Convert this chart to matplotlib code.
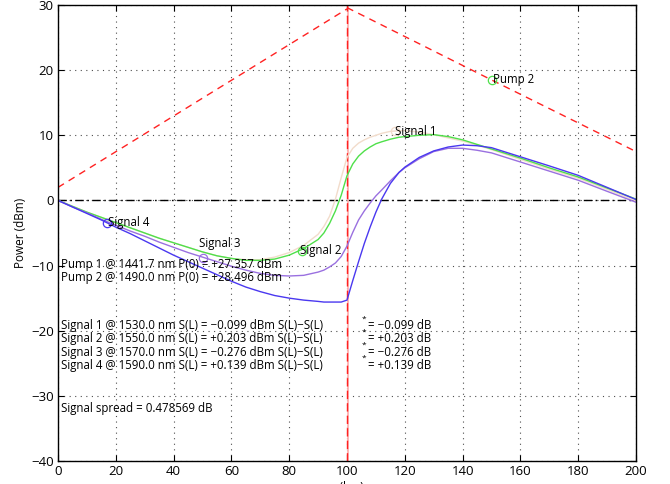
import matplotlib
matplotlib.use("Agg")
import matplotlib.pyplot as plt

plt.rcParams['font.family'] = ['Open Sans', 'DejaVu Sans']

# Fibre position grid (km) for the signal traces
z_km = [0, 5, 10, 15, 20, 25, 30, 35, 40, 45, 50, 55, 60, 65, 70, 75, 80, 85,
        90, 92, 94, 96, 98, 100, 102, 104, 106, 108, 110, 112, 115, 118, 120, 125,
        130, 135, 140, 145, 150, 160, 170, 180, 190, 200]

# Signal powers along the fibre (dBm)
signal1 = [0, -0.9, -1.8, -2.6, -3.4, -4.2, -5.0, -5.8, -6.5, -7.2, -7.9, -8.5,
           -8.9, -9.1, -9.1, -8.7, -8.0, -6.9, -5.2, -4.0, -2.4, 0.2, 3.5, 6.6,
           8.0, 8.8, 9.3, 9.7, 10.0, 10.3, 10.6, 10.7, 10.7, 10.5, 10.1, 9.6, 9.1,
           8.5, 7.8, 6.3, 4.8, 3.4, 1.7, -0.099]
signal2 = [0, -0.9, -1.8, -2.6, -3.4, -4.2, -5.0, -5.8, -6.5, -7.2, -7.9, -8.5,
           -8.9, -9.2, -9.2, -9.0, -8.4, -7.4, -6.0, -5.0, -3.5, -1.6, 0.8, 3.8,
           5.6, 6.8, 7.6, 8.2, 8.7, 9.0, 9.4, 9.7, 9.8, 10.0, 10.1, 9.8, 9.3, 8.6,
           7.9, 6.5, 5.0, 3.6, 1.9, 0.203]
signal3 = [0, -1.0, -1.9, -2.9, -3.8, -4.7, -5.5, -6.4, -7.2, -8.0, -8.7, -9.4,
           -10.1, -10.7, -11.2, -11.5, -11.6, -11.5, -11.0, -10.7, -10.2, -9.6,
           -8.6, -7.0, -4.9, -3.0, -1.6, -0.4, 0.7, 1.6, 3.0, 4.3, 5.0, 6.4, 7.5,
           8.0, 8.0, 7.7, 7.3, 5.9, 4.5, 3.1, 1.4, -0.276]
signal4 = [0, -1.0, -2.0, -3.0, -4.1, -5.1, -6.2, -7.3, -8.4, -9.4, -10.4, -11.4,
           -12.4, -13.3, -14.0, -14.6, -15.0, -15.3, -15.5, -15.6, -15.6, -15.6,
           -15.6, -15.3, -12.3, -9.4, -6.6, -4.1, -1.8, 0.2, 2.6, 4.3, 5.1, 6.6,
           7.6, 8.2, 8.5, 8.4, 8.1, 6.7, 5.3, 3.85, 2.0, 0.139]

# Pump powers (dBm): pump 1 on the first span, pump 2 on the second
pump1_z = [0, 100]
pump1_p = [2.0, 29.4]
pump2_z = [100, 150, 200]
pump2_p = [29.6, 18.5, 7.5]
span_boundary = 100

# Labelled marker points
marker_z = {'Signal 1': 116.6, 'Signal 2': 84.4, 'Signal 3': 50.2, 'Signal 4': 17.0, 'Pump 2': 150.0}
marker_p = {'Signal 1': 10.6, 'Signal 2': -7.7, 'Signal 3': -8.8, 'Signal 4': -3.4, 'Pump 2': 18.5}

colors = {'Signal 1': '#f2dccb', 'Signal 2': '#4fe04a', 'Signal 3': '#9a70e0',
          'Signal 4': '#4a38f0', 'Pump 2': '#4fe04a'}
pump_color = '#ff2222'

pump_lines = ['Pump 1 @ 1441.7 nm P(0) = +27.357 dBm',
              'Pump 2 @ 1490.0 nm P(0) = +28.496 dBm']
signal_lines = ['Signal 1 @ 1530.0 nm S(L) = \u22120.099 dBm S(L)\u2212S(L)',
                'Signal 2 @ 1550.0 nm S(L) = +0.203 dBm S(L)\u2212S(L)',
                'Signal 3 @ 1570.0 nm S(L) = \u22120.276 dBm S(L)\u2212S(L)',
                'Signal 4 @ 1590.0 nm S(L) = +0.139 dBm S(L)\u2212S(L)']
delta_lines = ['= \u22120.099 dB', '= +0.203 dB', '= \u22120.276 dB', '= +0.139 dB']
spread_text = 'Signal spread = 0.478569 dB'

fig = plt.figure(figsize=(6.70, 4.84), dpi=100)
ax = fig.add_axes([58 / 670, 1 - 461 / 484, (636 - 58) / 670, (461 - 5) / 484])

ax.set_xlim(0, 200)
ax.set_ylim(-40, 30)
ax.set_xticks(range(0, 201, 20))
ax.set_yticks(range(-40, 31, 10))
ax.grid(True, linestyle=(0, (1, 4)), color='0.3', linewidth=0.8)
ax.tick_params(direction='in', top=True, right=True, length=4, width=0.8,
               labelsize=9.5, pad=3, colors='black')
for s in ax.spines.values():
    s.set_linewidth(1.0)
ax.set_axisbelow(True)

# zero reference line
ax.axhline(0, color='black', linestyle=(0, (6, 2.5, 1.2, 2.5)), linewidth=1.0)

# pumps
ax.axvline(span_boundary + 0.4, color='#ffb0b0', linewidth=1.3)
ax.axvline(span_boundary, color=pump_color, linestyle=(0, (6, 3)), linewidth=1.0)
ax.plot(pump1_z, pump1_p, color=pump_color, linestyle=(0, (5, 4)), linewidth=1.0)
ax.plot(pump2_z, pump2_p, color=pump_color, linestyle=(0, (5, 4)), linewidth=1.0)

# signals
for name, vals in [('Signal 1', signal1), ('Signal 2', signal2),
                   ('Signal 3', signal3), ('Signal 4', signal4)]:
    ax.plot(z_km, vals, color=colors[name], linewidth=1.0)

# markers and labels
label_pos = {'Signal 1': (116.6, 10.6), 'Signal 2': (83.7, -7.7),
             'Signal 3': (48.8, -6.6), 'Signal 4': (17.3, -3.4), 'Pump 2': (150.5, 18.5)}
for name in marker_z:
    ax.plot(marker_z[name], marker_p[name], 'o', markersize=6, markerfacecolor='none',
            markeredgecolor=colors[name], markeredgewidth=0.9)
    lx, ly = label_pos[name]
    ax.text(lx, ly, name, fontsize=8.3, ha='left', va='center')

fs = 8.3
for i, t in enumerate(pump_lines):
    ax.text(1.0, -9.8 - 2.1 * i, t, fontsize=fs, ha='left', va='center')
for i, t in enumerate(signal_lines):
    ax.text(1.0, -19.2 - 2.05 * i, t, fontsize=fs, ha='left', va='center')
for i, t in enumerate(delta_lines):
    ax.text(107.3, -19.2 - 2.05 * i, t, fontsize=fs, ha='left', va='center')
    ax.text(106.0, -18.2 - 2.0 * i, '*', fontsize=6, ha='center', va='center')
ax.text(1.0, -31.9, spread_text, fontsize=fs, ha='left', va='center')

ax.set_ylabel('Power (dBm)', fontsize=8.5, labelpad=3)
ax.set_xlabel('z (km)', fontsize=8.5, labelpad=2)

fig.savefig('out.png', dpi=100)
